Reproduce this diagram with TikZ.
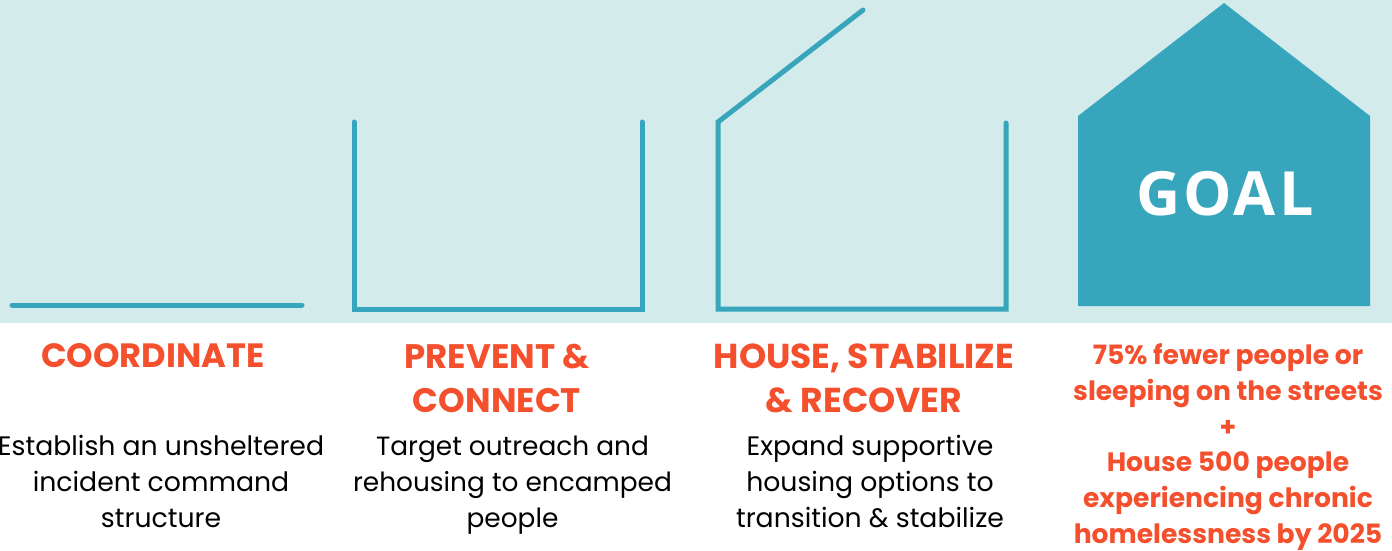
\documentclass[tikz,border=0pt]{standalone}
\usepackage{fontspec}
\setmainfont{Poppins}
\newfontfamily\goalfont{Open Sans}
\definecolor{bgc}{HTML}{D3EBEB}
\definecolor{teal}{HTML}{37A5BB}
\definecolor{orangec}{HTML}{F4502E}
\tikzset{
 px/.style={x=1pt,y=-1pt},
 wall/.style={draw=teal,line width=5pt,line cap=round,line join=miter},
 head/.style={text=orangec,font=\fontsize{34}{44}\selectfont\bfseries,align=center,anchor=center},
 body/.style={text=black,font=\fontsize{26.7}{36}\selectfont,align=center,anchor=center},
 goaltxt/.style={text=orangec,font=\fontsize{26.6}{35.7}\selectfont\bfseries,align=center,anchor=center},
}
\begin{document}
\begin{tikzpicture}[px]
\useasboundingbox (0,0) rectangle (1392,550);
\fill[bgc] (0,0) rectangle (1392,323);
\draw[wall] (12,305) -- (302,305);
\draw[wall] (354,122) -- (354,309) -- (642,309) -- (642,122);
\draw[wall] (1006,123) -- (1006,309) -- (718,309) -- (718,122) -- (863,10);
\fill[teal] (1078,306) -- (1078,116) -- (1224,3) -- (1370,116) -- (1370,306) -- cycle;
\node[text=white,font=\goalfont\bfseries\fontsize{61}{62}\selectfont\addfontfeatures{LetterSpace=5}] (g) at (1225,194) {GOAL};
\node[head,font=\fontsize{33.7}{44}\selectfont\bfseries] (h1) at (153,356) {COORDINATE};
\node[head] (h2) at (497,378) {PREVENT \&\\CONNECT};
\node[head,font=\fontsize{34.6}{44}\selectfont\bfseries] (h3) at (864,378) {HOUSE, STABILIZE\\\& RECOVER};
\node[body] (b1) at (161,481) {Establish an unsheltered\\incident command\\structure};
\node[body,font=\fontsize{26.4}{36}\selectfont] (b2) at (512.5,485) {Target outreach and\\rehousing to encamped\\people};
\node[body] (b3) at (870,481) {Expand supportive\\housing options to\\transition \& stabilize};
\node[goaltxt] (t) at (1228,447) {75\% fewer people or\\sleeping on the streets\\+\\House 500 people\\experiencing chronic\\homelessness by 2025};
\end{tikzpicture}
\end{document}
